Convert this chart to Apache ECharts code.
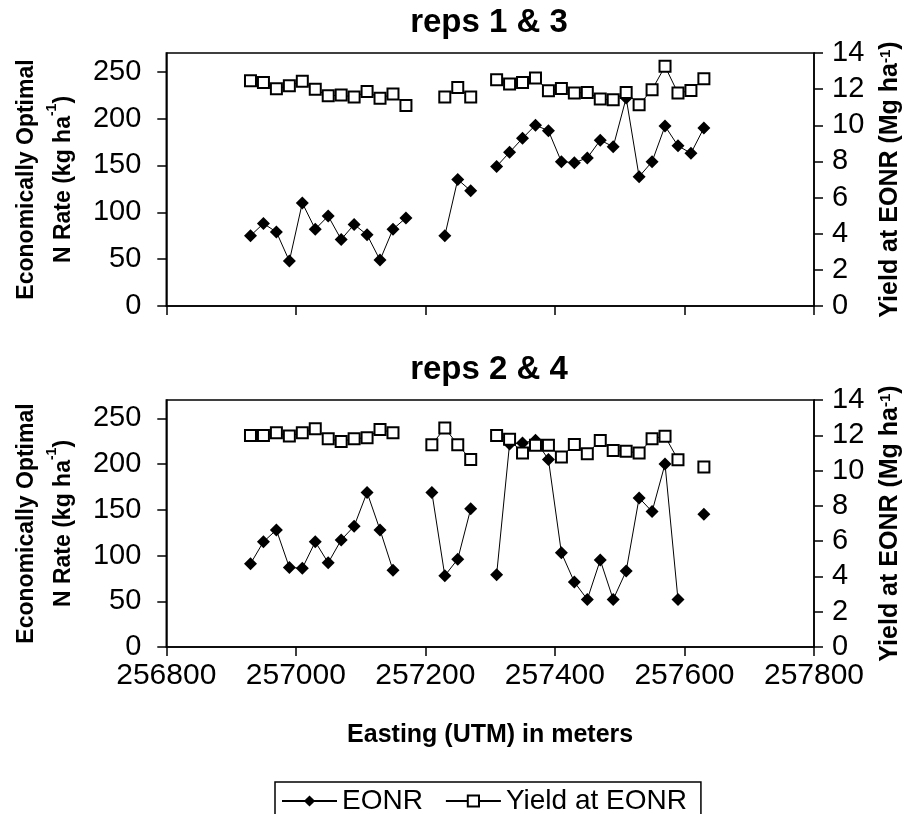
<!DOCTYPE html>
<html>
<head>
<meta charset="utf-8">
<script src="https://cdn.jsdelivr.net/npm/echarts@6/dist/echarts.min.js"></script>
<style>
  html, body { margin: 0; padding: 0; background: #fff; }
  #main { width: 911px; height: 814px; }
</style>
</head>
<body>
<div id="main"></div>
<script>
// easting (UTM, m) of each plot centre
var eastings = [256930, 256950, 256970, 256990, 257010, 257030, 257050, 257070, 257090,
  257110, 257130, 257150, 257170, 257190, 257210, 257230, 257250, 257270, 257290,
  257310, 257330, 257350, 257370, 257390, 257410, 257430, 257450, 257470, 257490,
  257510, 257530, 257550, 257570, 257590, 257610, 257630];

// reps 1 & 3
var eonrReps13 = [75, 88, 79, 48, 110, 82, 96, 71, 87, 76, 49, 82, 94, null, null, 75, 135, 123, null,
  149, 164, 179, 193, 187, 154, 153, 158, 177, 170, 222, 138, 154, 192, 171, 163, 190];
var yieldReps13 = [12.46, 12.37, 12.02, 12.19, 12.43, 12.0, 11.63, 11.67, 11.56, 11.87, 11.5, 11.73, 11.1,
  null, null, 11.56, 12.09, 11.56, null,
  12.52, 12.28, 12.37, 12.61, 11.91, 12.04, 11.78, 11.82, 11.45, 11.41, 11.82, 11.14, 11.97, 13.26,
  11.78, 11.92, 12.58];

// reps 2 & 4
var eonrReps24 = [91, 115, 128, 87, 86, 115, 92, 117, 132, 169, 128, 84, null, null, 169, 78, 96, 151, null,
  79, 222, 223, 226, 205, 103, 71, 52, 95, 52, 83, 163, 148, 200, 52, null, 145];
var yieldReps24 = [11.99, 11.99, 12.15, 11.96, 12.15, 12.37, 11.81, 11.65, 11.81, 11.86, 12.33, 12.15,
  null, null, 11.47, 12.41, 11.47, 10.63, null,
  11.99, 11.77, 10.99, 11.43, 11.43, 10.77, 11.48, 10.96, 11.71, 11.14, 11.1, 10.99, 11.81, 11.94,
  10.62, null, 10.2];

var panelTitles = ['reps 1 & 3', 'reps 2 & 4'];
var eonrTicks = [0, 50, 100, 150, 200, 250];

var FONT = '"Liberation Sans", Arial, sans-serif';

function pairs(vals) {
  return eastings.map(function (e, i) {
    return [e, vals[i] == null ? '-' : vals[i]];
  });
}

var chart = echarts.init(document.getElementById('main'), null, { renderer: 'canvas' });

var grids = [
  { left: 160, right: 93, top: 53, height: 253 },
  { left: 160, right: 93, top: 400, height: 247 }
];

function xAxis(idx, showLabels) {
  return {
    type: 'value', gridIndex: idx, min: 256800, max: 257800, interval: 200,
    axisLine: { lineStyle: { color: '#000', width: 1.5 } },
    axisTick: { show: true, inside: false, length: 9, lineStyle: { color: '#000', width: 1.5 } },
    axisLabel: {
      show: showLabels, color: '#000', fontSize: 30, fontFamily: FONT, margin: 14,
      formatter: function (v) { return String(v); }
    },
    splitLine: { show: false },
    name: showLabels ? 'Easting (UTM) in meters' : '',
    nameLocation: 'middle', nameGap: 76,
    nameTextStyle: { color: '#000', fontSize: 25, fontWeight: 'bold', fontFamily: FONT }
  };
}

function leftAxis(idx) {
  return {
    type: 'value', gridIndex: idx, position: 'left', min: 0, max: 270, interval: 50,
    axisLine: { show: true, lineStyle: { color: '#000', width: 1.5 } },
    axisTick: { show: true, length: 9, customValues: eonrTicks, lineStyle: { color: '#000', width: 1.5 } },
    axisLabel: { color: '#000', fontSize: 29, fontFamily: FONT, margin: 25, customValues: eonrTicks },
    splitLine: { show: false },
    name: 'Economically Optimal\nN Rate (kg ha{sup|-1})',
    nameLocation: 'middle', nameRotate: 90, nameGap: 84,
    nameTextStyle: {
      color: '#000', fontSize: 23, fontWeight: 'bold', fontFamily: FONT, lineHeight: 37,
      rich: { sup: { fontSize: 14, fontWeight: 'bold', fontFamily: FONT, color: '#000', verticalAlign: 'top', lineHeight: 37 } }
    }
  };
}

function rightAxis(idx) {
  return {
    type: 'value', gridIndex: idx, position: 'right', min: 0, max: 14, interval: 2,
    axisLine: { show: true, lineStyle: { color: '#000', width: 1.5 } },
    axisTick: { show: true, length: 9, lineStyle: { color: '#000', width: 1.5 } },
    axisLabel: { color: '#000', fontSize: 29, fontFamily: FONT, margin: 18 },
    splitLine: { show: false },
    name: 'Yield at EONR (Mg ha{sup|-1})',
    nameLocation: 'middle', nameRotate: 90, nameGap: 64,
    nameTextStyle: {
      color: '#000', fontSize: 25, fontWeight: 'bold', fontFamily: FONT,
      rich: { sup: { fontSize: 15, fontWeight: 'bold', fontFamily: FONT, color: '#000', verticalAlign: 'top' } }
    }
  };
}

function eonrSeries(idx, vals) {
  return {
    name: 'EONR', type: 'line', xAxisIndex: idx, yAxisIndex: idx * 2,
    data: pairs(vals), symbol: 'diamond', symbolSize: 13, showSymbol: true,
    connectNulls: false, z: 2,
    lineStyle: { color: '#000', width: 1 },
    itemStyle: { color: '#000', borderColor: '#000', borderWidth: 0 },
    emphasis: { disabled: true }, animation: false
  };
}

function yieldSeries(idx, vals) {
  return {
    name: 'Yield at EONR', type: 'line', xAxisIndex: idx, yAxisIndex: idx * 2 + 1,
    data: pairs(vals), symbol: 'rect', symbolSize: 11, showSymbol: true,
    connectNulls: false, z: 3,
    lineStyle: { color: '#000', width: 1 },
    itemStyle: { color: '#fff', borderColor: '#000', borderWidth: 2 },
    emphasis: { disabled: true }, animation: false
  };
}

chart.setOption({
  backgroundColor: '#fff',
  animation: false,
  textStyle: { fontFamily: FONT },
  title: panelTitles.map(function (t, i) {
    return {
      text: t, left: 489, top: i === 0 ? 6 : 353, textAlign: 'center', padding: 0,
      textStyle: { color: '#000', fontSize: 33, fontWeight: 'bold', fontFamily: FONT }
    };
  }),
  grid: grids.map(function (g) {
    return Object.assign({ show: true, borderColor: '#000', borderWidth: 1.5, backgroundColor: 'transparent', containLabel: false }, g);
  }),
  xAxis: [xAxis(0, false), xAxis(1, true)],
  yAxis: [leftAxis(0), rightAxis(0), leftAxis(1), rightAxis(1)],
  legend: {
    data: ['EONR', 'Yield at EONR'],
    left: 275, top: 782, padding: [5, 14, 5, 6],
    borderColor: '#000', borderWidth: 1.5, borderRadius: 0,
    itemWidth: 55, itemHeight: 14, itemGap: 22,
    textStyle: { color: '#000', fontSize: 28, fontFamily: FONT }
  },
  series: [
    eonrSeries(0, eonrReps13), yieldSeries(0, yieldReps13),
    eonrSeries(1, eonrReps24), yieldSeries(1, yieldReps24)
  ]
});
</script>
</body>
</html>
